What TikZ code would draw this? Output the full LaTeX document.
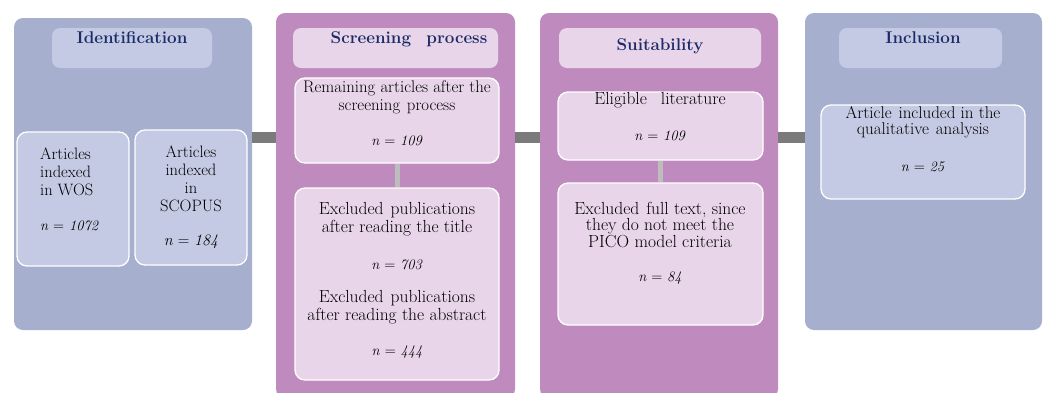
\documentclass[tikz,border=0pt]{standalone}
\usepackage{fontspec}
\definecolor{panelblue}{HTML}{A6AFCE}
\definecolor{boxblue}{HTML}{C4CAE3}
\definecolor{panelpurple}{HTML}{BF8BBE}
\definecolor{boxpink}{HTML}{E9D5E9}
\definecolor{titlenavy}{HTML}{1B2B68}
\definecolor{barGray}{HTML}{7B7B7B}
\definecolor{stemGray}{HTML}{BDBDBD}
\tikzset{
  panel/.style={rectangle, rounded corners=9pt, inner sep=0pt, draw=none},
  titlebox/.style={rectangle, rounded corners=8pt, inner sep=0pt, minimum height=40pt},
  itembox/.style={rectangle, rounded corners=10pt, draw=white, line width=1.3pt, inner sep=0pt},
  titletext/.style={font=\fontsize{17}{20}\selectfont\bfseries, text=titlenavy, inner sep=0pt},
  bodytext/.style={font=\fontsize{17.5}{18}\selectfont, align=center, inner sep=0pt},
  bar/.style={draw=barGray, line width=11pt},
  stem/.style={draw=stemGray, line width=5pt},
}
\newcommand{\nval}[1]{{\fontsize{14.5}{18}\selectfont\textit{n} = \textit{#1}}}
\newcommand{\wsp}{\hspace{0.4em}}
\begin{document}
\begin{tikzpicture}[x=1pt,y=-1pt]
\useasboundingbox (0,0) rectangle (1047,392);
\begin{scope}
\clip (0,0) rectangle (1047,392);
% stage panels
\node[panel, fill=panelblue, minimum width=238pt, minimum height=312pt] (p1) at (133,174) {};
\node[panel, fill=panelpurple, minimum width=239pt, minimum height=385pt] (p2) at (395.5,205.5) {};
\node[panel, fill=panelpurple, minimum width=238pt, minimum height=385pt] (p3) at (659,205.5) {};
\node[panel, fill=panelblue, minimum width=237pt, minimum height=317pt] (p4) at (923.5,171.5) {};
\end{scope}
% connectors between stages
\coordinate (barY) at (0,137.5);
\draw[bar] (p1.east |- barY) -- (p2.west |- barY);
\draw[bar] (p2.east |- barY) -- (p3.west |- barY);
\draw[bar] (p3.east |- barY) -- (p4.west |- barY);
% title boxes
\node[titlebox, fill=boxblue, minimum width=160pt] (t1) at (132,48) {};
\node[titlebox, fill=boxpink, minimum width=205pt] (t2) at (395.5,48) {};
\node[titlebox, fill=boxpink, minimum width=202pt] (t3) at (660,48) {};
\node[titlebox, fill=boxblue, minimum width=163pt] (t4) at (920.5,48) {};
\node[titletext] (t1T) at (132,38) {Identification};
\node[titletext] (t2T) at (409,39) {Screening\hspace{0.9em}process};
\node[titletext] (t3T) at (660,46) {Suitability};
\node[titletext] (t4T) at (923,38) {Inclusion};
% item boxes
\node[itembox, fill=boxblue, minimum width=112pt, minimum height=134pt] (wos) at (73,199) {};
\node[itembox, fill=boxblue, minimum width=112pt, minimum height=135pt] (scopus) at (191,197.5) {};
\node[itembox, fill=boxpink, minimum width=204pt, minimum height=85pt] (s1) at (397,120.5) {};
\node[itembox, fill=boxpink, minimum width=204pt, minimum height=192pt] (s2) at (397,284) {};
\node[itembox, fill=boxpink, minimum width=205pt, minimum height=68pt] (u1) at (660.5,126) {};
\node[itembox, fill=boxpink, minimum width=205pt, minimum height=142pt] (u2) at (660.5,254) {};
\node[itembox, fill=boxblue, minimum width=204pt, minimum height=94pt] (i1) at (923,152) {};
% links inside stages
\draw[stem] (s1.south) -- (s2.north);
\draw[stem] (u1.south) -- (u2.north);
% box texts
\node[bodytext, font=\fontsize{16.5}{18}\selectfont, align=left, anchor=north west] (wosT) at (40,148)
  {Articles\\indexed\\in WOS\\[17pt]\nval{1072}};
\node[bodytext, font=\fontsize{16.5}{18}\selectfont, anchor=north] (scopusT) at (191,146)
  {Articles\\indexed\\in\\SCOPUS\\[16pt]{\fontsize{16}{17}\selectfont\textit{n} = \textit{184}}};
\node[bodytext, font=\fontsize{16.8}{18}\selectfont, anchor=north] (s1T) at (397,80)
  {Remaining articles after the\\screening\wsp process\\[17pt]\nval{109}};
\node[bodytext, anchor=north] (s2T) at (397,202)
  {Excluded\wsp publications\\after reading the title\\[19pt]\nval{703}\\[15pt]Excluded\wsp publications\\after reading the abstract\\[17pt]\nval{444}};
\node[bodytext, anchor=north] (u1T) at (660,92)
  {Eligible\hspace{0.8em}literature\\[18pt]\nval{109}};
\node[bodytext, font=\fontsize{17.5}{16.5}\selectfont, anchor=north] (u2T) at (660,202)
  {Excluded\wsp full text, since\\they do not meet the\\PICO model criteria\\[18pt]\nval{84}};
\node[bodytext, font=\fontsize{17}{16}\selectfont, anchor=north] (i1T) at (923,106)
  {Article\wsp included in the\\qualitative\wsp analysis\\[21pt]\nval{25}};
\end{tikzpicture}
\end{document}
